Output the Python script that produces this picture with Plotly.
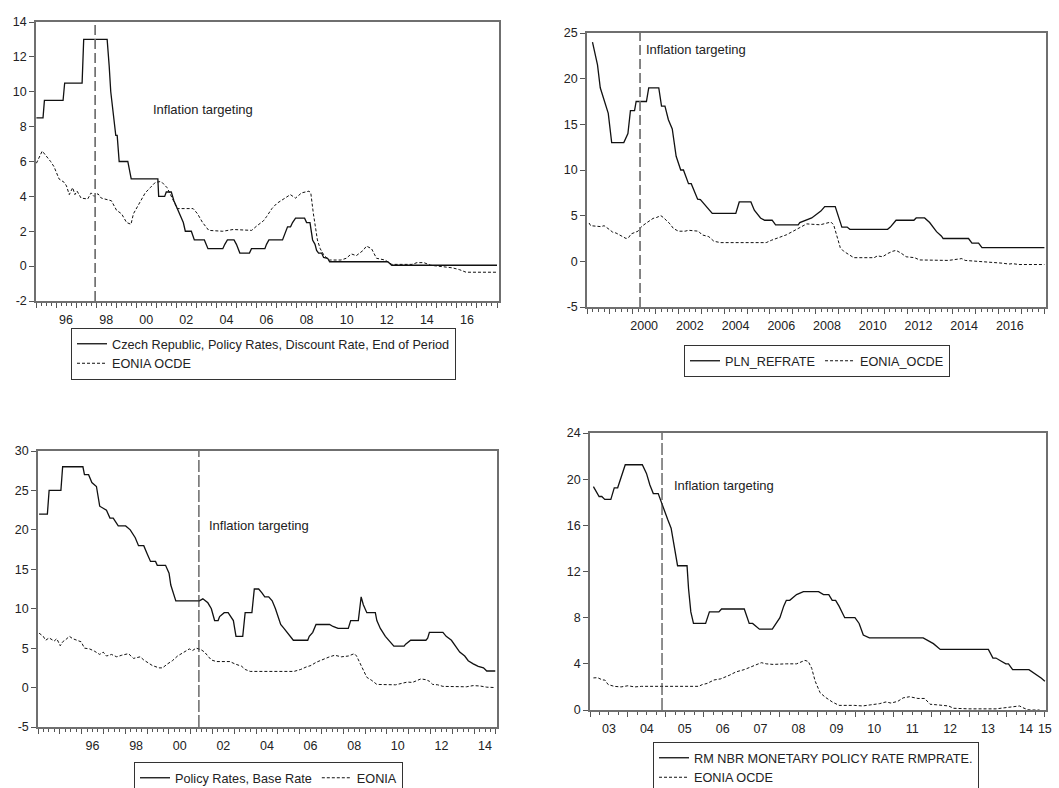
import plotly.graph_objects as go

# ---------------- data ----------------
# Czech Republic
cz_rate_t = [1995.02, 1995.35, 1995.42, 1996.35, 1996.43, 1997.30, 1997.38, 1998.55, 1998.65, 1998.73,
             1998.98, 1999.05, 1999.15, 1999.58, 1999.75, 2001.08, 2001.12, 2001.42, 2001.50, 2001.75,
             2001.88, 2002.25, 2002.35, 2002.45, 2002.75, 2002.90, 2003.40, 2003.58, 2004.32, 2004.42,
             2004.55, 2004.88, 2005.00, 2005.17, 2005.65, 2005.75, 2006.42, 2006.50, 2006.62, 2007.30,
             2007.45, 2007.55, 2007.70, 2007.80, 2007.95, 2008.40, 2008.50, 2008.67, 2008.80, 2008.92,
             2009.00, 2009.10, 2009.25, 2009.35, 2009.55, 2009.65, 2012.55, 2012.75, 2018.00]
cz_rate = [8.5, 8.5, 9.5, 9.5, 10.5, 10.5, 13.0, 13.0, 11.5, 10.0,
           7.5, 7.5, 6.0, 6.0, 5.0, 5.0, 4.0, 4.0, 4.25, 4.25,
           3.75, 2.75, 2.5, 2.0, 2.0, 1.5, 1.5, 1.0, 1.0, 1.25,
           1.5, 1.5, 1.25, 0.75, 0.75, 1.0, 1.0, 1.25, 1.5, 1.5,
           2.0, 2.25, 2.25, 2.5, 2.75, 2.75, 2.5, 2.5, 1.5, 1.25,
           0.9, 0.75, 0.75, 0.5, 0.45, 0.25, 0.25, 0.05, 0.05]
cz_eonia_t = [1995.02, 1995.31, 1995.73, 1995.90, 1996.15, 1996.41, 1996.52, 1996.66, 1996.83, 1996.94,
              1997.05, 1997.25, 1997.58, 1997.75, 1997.89, 1998.09, 1998.26, 1998.68, 1998.76, 1999.02,
              1999.27, 1999.52, 1999.74, 1999.86, 2000.11, 2000.45, 2000.70, 2000.95, 2001.21, 2001.29,
              2001.54, 2001.63, 2001.88, 2002.05, 2002.39, 2002.84, 2003.06, 2003.31, 2003.62, 2004.32,
              2004.83, 2005.76, 2006.01, 2006.35, 2006.51, 2006.77, 2007.02, 2007.27, 2007.53, 2007.69,
              2007.95, 2008.25, 2008.62, 2008.71, 2008.84, 2009.04, 2009.18, 2009.38, 2009.63, 2010.22,
              2010.48, 2010.73, 2010.98, 2011.32, 2011.49, 2011.74, 2011.99, 2012.41, 2012.75, 2013.76,
              2014.01, 2014.35, 2014.69, 2015.11, 2015.78, 2016.12, 2016.46, 2017.97]
cz_eonia = [5.9, 6.6, 6.0, 5.7, 5.0, 4.8, 4.6, 4.1, 4.5, 4.1,
            4.3, 3.9, 3.85, 4.2, 4.0, 4.15, 3.9, 3.8, 3.75, 3.2,
            3.0, 2.5, 2.4, 3.0, 3.5, 4.2, 4.5, 4.8, 4.85, 4.8,
            4.5, 4.3, 3.7, 3.3, 3.3, 3.3, 3.0, 2.5, 2.05, 2.0,
            2.1, 2.05, 2.3, 2.6, 2.85, 3.3, 3.6, 3.8, 4.0, 4.1,
            3.9, 4.2, 4.3, 4.2, 3.0, 1.5, 1.0, 0.6, 0.35, 0.35,
            0.45, 0.7, 0.6, 0.9, 1.15, 1.0, 0.45, 0.35, 0.1, 0.1,
            0.2, 0.2, 0.05, 0.0, -0.1, -0.2, -0.35, -0.35]
cz_label_years = [1996, 1998, 2000, 2002, 2004, 2006, 2008, 2010, 2012, 2014, 2016]
cz_labels = ["96", "98", "00", "02", "04", "06", "08", "10", "12", "14", "16"]
cz_it = 1997.95

# Poland
pl_rate_t = [1998.24, 1998.46, 1998.58, 1998.83, 1998.93, 1999.08, 1999.61, 1999.79, 1999.90, 2000.08,
             2000.15, 2000.60, 2000.70, 2001.14, 2001.26, 2001.41, 2001.56, 2001.73, 2001.90, 2002.10,
             2002.22, 2002.44, 2002.56, 2002.84, 2002.96, 2003.48, 2004.51, 2004.66, 2005.17, 2005.32,
             2005.59, 2005.77, 2006.10, 2006.25, 2007.24, 2007.31, 2007.61, 2007.83, 2008.23, 2008.30,
             2008.40, 2008.86, 2009.15, 2009.38, 2009.50, 2011.15, 2011.27, 2011.52, 2012.30, 2012.40,
             2012.77, 2012.99, 2013.29, 2013.51, 2013.58, 2014.69, 2014.84, 2015.13, 2015.28, 2018.01]
pl_rate = [24.0, 21.5, 19.0, 17.0, 16.2, 13.0, 13.0, 14.0, 16.5, 16.5,
           17.5, 17.5, 19.0, 19.0, 17.0, 17.0, 15.5, 14.5, 11.5, 10.0,
           10.0, 8.5, 8.5, 6.8, 6.75, 5.25, 5.25, 6.5, 6.5, 5.6,
           4.75, 4.5, 4.5, 4.0, 4.0, 4.25, 4.5, 4.75, 5.5, 5.75,
           6.0, 6.0, 3.75, 3.75, 3.5, 3.5, 3.75, 4.5, 4.5, 4.75,
           4.75, 4.25, 3.25, 2.75, 2.5, 2.5, 2.0, 2.0, 1.5, 1.5]
pl_eonia_t = [1998.09, 1998.16, 1998.61, 1998.75, 1998.97, 1999.12, 1999.27, 1999.49, 1999.71, 1999.82,
              1999.93, 2000.23, 2000.38, 2000.60, 2000.89, 2001.04, 2001.23, 2001.34, 2001.48, 2001.63,
              2001.78, 2002.00, 2002.29, 2002.44, 2002.88, 2003.03, 2003.33, 2003.55, 2003.84, 2004.66,
              2004.95, 2005.84, 2006.06, 2006.35, 2006.72, 2007.02, 2007.24, 2007.46, 2007.61, 2008.20,
              2008.67, 2008.79, 2008.97, 2009.08, 2009.23, 2009.45, 2009.67, 2010.56, 2010.71, 2010.93,
              2011.15, 2011.37, 2011.52, 2011.74, 2011.96, 2012.33, 2012.55, 2013.81, 2014.18, 2014.40,
              2014.54, 2014.84, 2015.43, 2015.87, 2016.17, 2016.46, 2016.61, 2016.90, 2018.01]
pl_eonia = [4.2, 3.9, 3.8, 3.9, 3.5, 3.2, 3.1, 2.8, 2.5, 2.6,
            3.0, 3.3, 3.8, 4.2, 4.7, 4.8, 5.0, 4.8, 4.5, 4.1,
            3.6, 3.3, 3.3, 3.4, 3.3, 2.9, 2.7, 2.2, 2.05, 2.05,
            2.1, 2.05, 2.3, 2.6, 2.9, 3.3, 3.6, 3.9, 4.1, 4.0,
            4.3, 4.0, 2.5, 1.5, 1.1, 0.7, 0.4, 0.4, 0.6, 0.5,
            0.85, 1.1, 1.2, 0.9, 0.5, 0.4, 0.15, 0.1, 0.25, 0.3,
            0.1, 0.05, 0.0, -0.1, -0.2, -0.3, -0.25, -0.35, -0.35]
pl_label_years = [2000, 2002, 2004, 2006, 2008, 2010, 2012, 2014, 2016]
pl_labels = ["2000", "2002", "2004", "2006", "2008", "2010", "2012", "2014", "2016"]
pl_it = 2000.32

# Hungary
hu_rate_t = [1994.05, 1994.43, 1994.51, 1995.05, 1995.13, 1996.06, 1996.13, 1996.32, 1996.47, 1996.68,
             1996.83, 1997.14, 1997.30, 1997.45, 1997.68, 1998.02, 1998.23, 1998.46, 1998.61, 1998.85,
             1999.00, 1999.16, 1999.39, 1999.47, 1999.85, 2000.01, 2000.09, 2000.21, 2000.32, 2001.40,
             2001.56, 2001.79, 2001.95, 2002.10, 2002.26, 2002.33, 2002.54, 2002.72, 2002.96, 2003.08,
             2003.39, 2003.50, 2003.81, 2003.92, 2004.12, 2004.27, 2004.40, 2004.58, 2004.74, 2004.89,
             2005.00, 2005.13, 2005.28, 2005.43, 2005.59, 2005.71, 2006.37, 2006.44, 2006.60, 2006.75,
             2007.37, 2007.53, 2007.76, 2008.23, 2008.34, 2008.69, 2008.82, 2008.92, 2009.08, 2009.47,
             2009.54, 2009.70, 2009.93, 2010.17, 2010.32, 2010.79, 2010.86, 2011.09, 2011.79, 2011.87,
             2011.95, 2012.57, 2012.72, 2012.96, 2013.19, 2013.34, 2013.57, 2013.73, 2013.96, 2014.19,
             2014.43, 2014.58, 2014.97]
hu_rate = [22.0, 22.0, 25.0, 25.0, 28.0, 28.0, 27.0, 27.0, 26.0, 25.5,
           23.0, 22.5, 21.5, 21.5, 20.5, 20.5, 20.0, 19.0, 18.0, 18.0,
           17.0, 16.0, 16.0, 15.5, 15.5, 14.5, 13.0, 12.0, 11.0, 11.0,
           11.25, 10.75, 10.0, 8.5, 8.5, 9.0, 9.5, 9.5, 8.5, 6.5,
           6.5, 9.5, 9.5, 12.5, 12.5, 12.0, 11.5, 11.5, 11.0, 10.0,
           9.0, 8.0, 7.5, 7.0, 6.5, 6.0, 6.0, 6.5, 7.0, 8.0,
           8.0, 7.75, 7.5, 7.5, 8.5, 8.5, 11.5, 10.5, 9.5, 9.5,
           8.5, 7.5, 6.5, 5.75, 5.25, 5.25, 5.5, 6.0, 6.0, 6.25,
           7.0, 7.0, 6.5, 6.0, 5.0, 4.5, 4.0, 3.4, 3.0, 2.7,
           2.5, 2.1, 2.1]
hu_eonia_t = [1994.05, 1994.24, 1994.35, 1994.51, 1994.74, 1994.86, 1995.02, 1995.13, 1995.28, 1995.44,
              1995.59, 1995.82, 1995.98, 1996.13, 1996.37, 1996.60, 1996.83, 1996.99, 1997.14, 1997.37,
              1997.61, 1997.84, 1998.15, 1998.38, 1998.69, 1998.85, 1999.00, 1999.24, 1999.55, 1999.71,
              1999.94, 2000.16, 2000.40, 2000.71, 2000.94, 2001.09, 2001.25, 2001.48, 2001.64, 2001.79,
              2001.95, 2002.18, 2002.80, 2003.03, 2003.34, 2003.50, 2003.73, 2005.74, 2006.05, 2006.29,
              2006.52, 2006.75, 2007.06, 2007.37, 2007.61, 2007.91, 2008.23, 2008.51, 2008.61, 2008.85,
              2009.08, 2009.31, 2009.54, 2010.40, 2010.63, 2010.94, 2011.17, 2011.40, 2011.56, 2011.79,
              2011.95, 2012.10, 2012.33, 2012.57, 2013.65, 2013.96, 2014.27, 2014.58, 2014.97]
hu_eonia = [6.9, 6.5, 6.0, 6.3, 5.9, 6.2, 5.3, 5.8, 6.1, 6.5,
            6.2, 6.0, 5.8, 5.0, 4.9, 4.6, 4.2, 4.5, 4.0, 4.2,
            3.9, 4.1, 4.3, 3.7, 3.9, 3.5, 3.2, 2.8, 2.5, 2.5,
            3.0, 3.4, 4.0, 4.5, 4.9, 4.7, 5.0, 4.8, 4.5, 4.0,
            3.5, 3.3, 3.3, 3.0, 2.7, 2.3, 2.05, 2.05, 2.3, 2.6,
            2.8, 3.2, 3.6, 3.9, 4.1, 3.9, 4.0, 4.3, 4.0, 2.5,
            1.3, 0.9, 0.4, 0.35, 0.5, 0.7, 0.65, 0.9, 1.1, 1.0,
            0.8, 0.4, 0.35, 0.15, 0.1, 0.25, 0.2, 0.05, 0.0]
hu_label_years = [1996, 1998, 2000, 2002, 2004, 2006, 2008, 2010, 2012, 2014]
hu_labels = ["96", "98", "00", "02", "04", "06", "08", "10", "12", "14"]
hu_it = 2001.38

# Romania
ro_rate_t = [2003.09, 2003.15, 2003.24, 2003.31, 2003.39, 2003.55, 2003.64, 2003.73, 2003.82, 2003.93,
             2004.38, 2004.49, 2004.58, 2004.67, 2004.80, 2004.93, 2005.05, 2005.14, 2005.20, 2005.31,
             2005.56, 2005.60, 2005.66, 2005.73, 2006.05, 2006.15, 2006.40, 2006.47, 2007.07, 2007.20,
             2007.29, 2007.47, 2007.81, 2007.92, 2008.01, 2008.11, 2008.18, 2008.27, 2008.45, 2008.63,
             2009.03, 2009.16, 2009.30, 2009.39, 2009.48, 2009.57, 2009.72, 2009.99, 2010.10, 2010.21,
             2010.37, 2011.79, 2011.92, 2012.06, 2012.24, 2013.51, 2013.63, 2013.71, 2013.84, 2013.97,
             2014.04, 2014.15, 2014.58, 2014.69, 2014.82, 2014.91, 2015.00]
ro_rate = [19.35, 19.0, 18.5, 18.5, 18.25, 18.25, 19.25, 19.25, 20.25, 21.25,
           21.25, 20.5, 19.5, 18.75, 18.75, 17.5, 16.5, 15.75, 14.5, 12.5,
           12.5, 10.5, 8.5, 7.5, 7.5, 8.5, 8.5, 8.75, 8.75, 7.5,
           7.5, 7.0, 7.0, 7.5, 8.0, 9.0, 9.5, 9.5, 10.0, 10.25,
           10.25, 10.0, 10.0, 9.5, 9.5, 9.0, 8.0, 8.0, 7.5, 6.5,
           6.25, 6.25, 6.0, 5.75, 5.25, 5.25, 4.5, 4.5, 4.25, 4.0,
           4.0, 3.5, 3.5, 3.25, 3.0, 2.75, 2.5]
ro_eonia_t = [2003.09, 2003.20, 2003.33, 2003.39, 2003.48, 2003.64, 2003.82, 2004.00, 2004.18, 2004.36,
              2004.89, 2005.87, 2005.96, 2006.09, 2006.27, 2006.45, 2006.67, 2006.85, 2007.07, 2007.29,
              2007.52, 2007.65, 2007.83, 2008.18, 2008.45, 2008.67, 2008.76, 2008.85, 2008.94, 2009.07,
              2009.21, 2009.39, 2009.57, 2009.97, 2010.19, 2010.41, 2010.64, 2010.81, 2010.94, 2011.12,
              2011.26, 2011.43, 2011.65, 2011.83, 2011.97, 2012.15, 2012.46, 2012.59, 2012.99, 2013.71,
              2013.97, 2014.11, 2014.33, 2014.42, 2014.55, 2014.64, 2014.86]
ro_eonia = [2.78, 2.8, 2.6, 2.6, 2.2, 2.05, 2.0, 2.1, 2.0, 2.05,
            2.05, 2.05, 2.2, 2.3, 2.6, 2.7, 3.0, 3.3, 3.5, 3.8,
            4.1, 4.0, 3.95, 4.0, 4.0, 4.3, 4.2, 3.6, 2.5, 1.5,
            1.1, 0.7, 0.4, 0.4, 0.35, 0.45, 0.55, 0.7, 0.6, 0.75,
            1.05, 1.15, 1.0, 1.0, 0.5, 0.45, 0.35, 0.15, 0.1, 0.1,
            0.2, 0.25, 0.35, 0.2, 0.02, 0.0, 0.0]
ro_label_years = [2003, 2004, 2005, 2006, 2007, 2008, 2009, 2010, 2011, 2012, 2013, 2014, 2015]
ro_labels = ["03", "04", "05", "06", "07", "08", "09", "10", "11", "12", "13", "14", "15"]
ro_it = 2004.9

note_text = "Inflation targeting"

# ---------------- figure ----------------
W, H = 1059, 788
FONT = "Liberation Sans, Arial, sans-serif"
TXT = "#222222"
FRAME = "#6f6f6f"

panels = [
    dict(rate_t=cz_rate_t, rate=cz_rate, eon_t=cz_eonia_t, eon=cz_eonia,
         rate_name="Czech Republic, Policy Rates, Discount Rate, End of Period", eon_name="EONIA OCDE",
         xpx=(36, 499), ypx=(22, 301), xr=(1995.0, 2018.1), yr=(-2, 14), ydt=2,
         lab_pos=[y + 0.5 for y in cz_label_years], lab_text=cz_labels, it=cz_it, note=(2000.75, 9.0),
         leg=(71, 328, "v"), vline=dict(color="#707070", width=1.7, dash="10px,4px")),
    dict(rate_t=pl_rate_t, rate=pl_rate, eon_t=pl_eonia_t, eon=pl_eonia,
         rate_name="PLN_REFRATE", eon_name="EONIA_OCDE",
         xpx=(587, 1046), ypx=(33, 307), xr=(1998.0, 2018.08), yr=(-5, 25), ydt=5,
         lab_pos=[y + 0.5 for y in pl_label_years], lab_text=pl_labels, it=pl_it, note=(2000.5, 23.2),
         leg=(684, 345, "h"), vline=dict(color="#707070", width=1.7, dash="10px,4px")),
    dict(rate_t=hu_rate_t, rate=hu_rate, eon_t=hu_eonia_t, eon=hu_eonia,
         rate_name="Policy Rates, Base Rate", eon_name="EONIA",
         xpx=(38, 497), ypx=(451, 727), xr=(1994.0, 2015.05), yr=(-5, 30), ydt=5,
         lab_pos=[y + 0.5 for y in hu_label_years], lab_text=hu_labels, it=hu_it, note=(2001.75, 20.6),
         leg=(134, 762, "h"), vline=dict(color="#333333", width=1.1, dash="12px,3px")),
    dict(rate_t=ro_rate_t, rate=ro_rate, eon_t=ro_eonia_t, eon=ro_eonia,
         rate_name="RM NBR MONETARY POLICY RATE RMPRATE.", eon_name="EONIA OCDE",
         xpx=(590, 1046), ypx=(433, 710), xr=(2003.0, 2015.03), yr=(0, 24), ydt=4,
         lab_pos=[y + 0.5 for y in ro_label_years[:-1]] + [ro_label_years[-1]], lab_text=ro_labels,
         it=ro_it, note=(2005.16, 19.45),
         leg=(653, 742, "v"), vline=dict(color="#333333", width=1.1, dash="12px,3px")),
]

fig = go.Figure()
layout = dict(
    width=W, height=H, autosize=False,
    margin=dict(l=0, r=0, t=0, b=0, pad=0, autoexpand=False),
    paper_bgcolor="white", plot_bgcolor="white",
    font=dict(family=FONT, size=12.5, color=TXT),
    showlegend=True, shapes=[], annotations=[],
)

for i, p in enumerate(panels, start=1):
    xa = "x" if i == 1 else f"x{i}"
    ya = "y" if i == 1 else f"y{i}"
    xk = "xaxis" if i == 1 else f"xaxis{i}"
    yk = "yaxis" if i == 1 else f"yaxis{i}"
    lk = "legend" if i == 1 else f"legend{i}"
    ox = f"x{i + 4}"
    oxk = f"xaxis{i + 4}"

    fig.add_trace(go.Scatter(x=p["rate_t"], y=p["rate"], mode="lines", name=p["rate_name"],
                             line=dict(color="#111111", width=1.3),
                             xaxis=xa, yaxis=ya, legend=lk, hoverinfo="skip"))
    fig.add_trace(go.Scatter(x=p["eon_t"], y=p["eon"], mode="lines", name=p["eon_name"],
                             line=dict(color="#111111", width=1.0, dash="3px,2px"),
                             xaxis=xa, yaxis=ya, legend=lk, hoverinfo="skip"))
    # dummy trace so the label axis is drawn
    fig.add_trace(go.Scatter(x=[None], y=[None], mode="lines", showlegend=False,
                             xaxis=ox, yaxis=ya, hoverinfo="skip"))

    x0, x1 = p["xpx"]
    y0, y1 = p["ypx"]
    xr0, xr1 = p["xr"]
    year_starts = [float(y) for y in range(int(xr0) + (0 if xr0 == int(xr0) else 1), int(xr1) + 1)]
    yvals = list(range(p["yr"][0], p["yr"][1] + 1, p["ydt"]))

    layout[xk] = dict(
        domain=[x0 / W, x1 / W], range=[xr0, xr1], anchor=ya,
        showline=True, mirror=True, linecolor=FRAME, linewidth=1.5,
        ticks="outside", ticklen=5, tickwidth=1, tickcolor="#555555",
        tickmode="array", tickvals=year_starts, showticklabels=False,
        showgrid=False, zeroline=False, fixedrange=True,
        minor=dict(ticks="outside", ticklen=3, tickwidth=1, tickcolor="#555555",
                   tick0=float(int(xr0)), dtick=0.25, showgrid=False),
    )
    layout[oxk] = dict(
        overlaying=xa, anchor=ya, side="bottom", range=[xr0, xr1],
        showline=False, showgrid=False, zeroline=False, fixedrange=True,
        ticks="outside", ticklen=7, tickcolor="rgba(0,0,0,0)",
        tickmode="array", tickvals=p["lab_pos"], ticktext=p["lab_text"],
        tickfont=dict(family=FONT, size=12.5, color=TXT),
    )
    layout[yk] = dict(
        domain=[1 - y1 / H, 1 - y0 / H], range=list(p["yr"]), anchor=xa,
        showline=True, mirror=True, linecolor=FRAME, linewidth=1.5,
        ticks="outside", ticklen=5, tickwidth=1, tickcolor="#555555",
        tickmode="array", tickvals=yvals, ticktext=[str(v) for v in yvals],
        tickfont=dict(family=FONT, size=12.5, color=TXT),
        showgrid=False, zeroline=False, fixedrange=True,
    )
    lx, ly, lo = p["leg"]
    layout[lk] = dict(
        x=lx / W, y=1 - ly / H, xanchor="left", yanchor="top", orientation=lo,
        bordercolor="#333333", borderwidth=1, bgcolor="white",
        font=dict(family=FONT, size=12.7, color=TXT), tracegroupgap=0, itemwidth=30,
    )
    layout["shapes"].append(dict(type="line", xref=xa, yref=f"{ya} domain",
                                 x0=p["it"], x1=p["it"], y0=0, y1=1, line=p["vline"]))
    layout["annotations"].append(dict(x=p["note"][0], y=p["note"][1], xref=xa, yref=ya,
                                      text=note_text, showarrow=False, xanchor="left", yanchor="middle",
                                      font=dict(family=FONT, size=13, color=TXT)))

fig.update_layout(**layout)

fig.write_html("out.html", config={"displayModeBar": False},
               post_script="document.body.style.margin='0';document.body.style.padding='0';")
